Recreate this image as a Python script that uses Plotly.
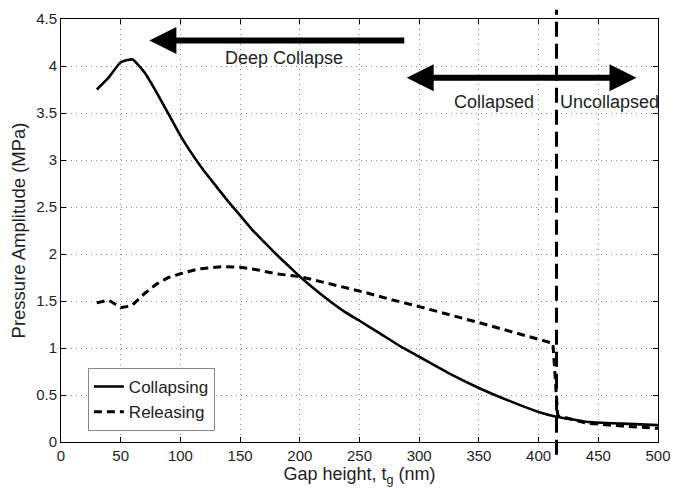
import plotly.graph_objects as go

# ---- data ----
collapse_x = [30, 40, 50, 60, 70, 80, 90, 100, 110, 120, 130, 140, 150, 160, 170, 180, 190, 200, 212, 225, 237, 250, 267, 284, 300, 325, 350, 375, 400, 413, 440, 470, 500]
collapse_y = [3.75, 3.88, 4.04, 4.07, 3.93, 3.72, 3.49, 3.26, 3.06, 2.88, 2.72, 2.56, 2.41, 2.26, 2.13, 2.00, 1.88, 1.76, 1.63, 1.50, 1.39, 1.29, 1.156, 1.02, 0.907, 0.73, 0.575, 0.44, 0.32, 0.275, 0.215, 0.195, 0.18]

release_x = [30, 40, 50, 55, 60, 70, 80, 90, 100, 115, 135, 150, 165, 180, 200, 230, 255, 275, 300, 350, 400, 412, 416, 440, 470, 500]
release_y = [1.48, 1.51, 1.43, 1.44, 1.46, 1.58, 1.68, 1.75, 1.79, 1.84, 1.865, 1.86, 1.83, 1.79, 1.76, 1.67, 1.59, 1.52, 1.44, 1.27, 1.09, 1.05, 0.28, 0.20, 0.17, 0.145]

series_names = ["Collapsing", "Releasing"]
x_range = [0, 500]
y_range = [0, 4.5]
x_ticks = [0, 50, 100, 150, 200, 250, 300, 350, 400, 450, 500]
y_ticks = [0, 0.5, 1, 1.5, 2, 2.5, 3, 3.5, 4, 4.5]
y_tick_labels = ["0", "0.5", "1", "1.5", "2", "2.5", "3", "3.5", "4", "4.5"]

collapse_gap = 415  # vertical dashed marker (nm)

# annotation anchors (data units)
deep_arrow_tip_x, deep_arrow_tail_x, deep_arrow_y = 74, 290, 4.27
deep_text = "Deep Collapse"
deep_text_x, deep_text_y = 187, 4.09
both_arrow_left_x, both_arrow_right_x, both_arrow_y = 287, 482, 3.876
collapsed_text_x, uncollapsed_text_x, region_text_y = 363, 459, 3.62

FONT = "Liberation Sans, Arial, Helvetica, sans-serif"
TXT = "#1e1e1e"

fig = go.Figure()
fig.add_trace(go.Scatter(x=collapse_x, y=collapse_y, mode="lines", name=series_names[0],
                         line=dict(color="black", width=2.6, shape="spline", smoothing=0.4)))
fig.add_trace(go.Scatter(x=release_x, y=release_y, mode="lines", name=series_names[1],
                         line=dict(color="black", width=3, dash="8px,5px")))

# vertical dashed line
gap_paper = (collapse_gap - x_range[0]) / (x_range[1] - x_range[0])
fig.add_shape(type="line", xref="paper", yref="paper",
              x0=gap_paper, x1=gap_paper, y0=-0.03, y1=1.022,
              line=dict(color="black", width=3, dash="15px,7px"))

# arrows
fig.add_annotation(x=deep_arrow_tip_x, y=deep_arrow_y, ax=deep_arrow_tail_x, ay=deep_arrow_y,
                   xref="x", yref="y", axref="x", ayref="y", text=" ", showarrow=True,
                   arrowhead=2, arrowsize=0.9, arrowwidth=6, arrowcolor="black")
fig.add_annotation(x=both_arrow_right_x, y=both_arrow_y, ax=both_arrow_left_x, ay=both_arrow_y,
                   xref="x", yref="y", axref="x", ayref="y", text=" ", showarrow=True,
                   arrowhead=2, startarrowhead=2, arrowside="end+start",
                   arrowsize=0.9, startarrowsize=0.9, arrowwidth=6, arrowcolor="black")
fig.add_annotation(x=deep_text_x, y=deep_text_y, text=deep_text, showarrow=False,
                   xref="x", yref="y", font=dict(size=18, color=TXT, family=FONT))
fig.add_annotation(x=collapsed_text_x, y=region_text_y, text="Collapsed", showarrow=False,
                   xref="x", yref="y", font=dict(size=18, color=TXT, family=FONT))
fig.add_annotation(x=uncollapsed_text_x, y=region_text_y, text="Uncollapsed", showarrow=False,
                   xref="x", yref="y", font=dict(size=18, color=TXT, family=FONT))

axis_common = dict(showline=True, linecolor="black", linewidth=1, mirror="ticks",
                   ticks="inside", ticklen=5, tickcolor="black", automargin=False,
                   showgrid=True, gridcolor="#8a8a8a", griddash="1px,4px", gridwidth=1,
                   zeroline=False, tickfont=dict(size=15, color=TXT, family=FONT))

# page body has an 8px default margin, so the figure is sized to fit inside the window
fig.update_layout(
    width=674, height=480,
    margin=dict(l=53, r=24, t=11, b=46),
    paper_bgcolor="white", plot_bgcolor="white",
    font=dict(family=FONT, color=TXT),
    xaxis=dict(range=x_range, tickvals=x_ticks, title=dict(text="Gap height, t<sub>g</sub> (nm)",
               font=dict(size=18, family=FONT), standoff=0), **axis_common),
    yaxis=dict(range=y_range, tickvals=y_ticks, ticktext=y_tick_labels,
               title=dict(text="Pressure Amplitude (MPa)", font=dict(size=18.5, family=FONT), standoff=6),
               **axis_common),
    legend=dict(x=0.045, y=0.175, xanchor="left", yanchor="top",
                bgcolor="white", bordercolor="#888", borderwidth=1,
                font=dict(size=17, family=FONT, color=TXT)),
    showlegend=True,
)

fig.write_html("out.html")
